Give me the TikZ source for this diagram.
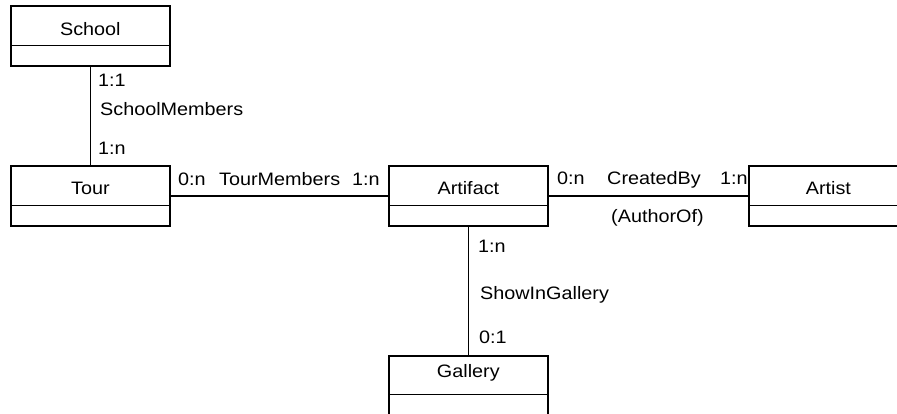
\documentclass[tikz,border=0pt]{standalone}
\usepackage{fontspec}
\setmainfont[FakeStretch=1.1]{Liberation Sans}
\begin{document}
\begin{tikzpicture}[x=1pt,y=-1pt,
  cls/.style={draw, line width=1.7pt, minimum width=159pt, minimum height=60pt,
    inner sep=0pt, anchor=north west},
  txt/.style={inner sep=0pt, font=\fontsize{18}{20}\selectfont},
  lbl/.style={txt, anchor=base west},
  cname/.style={txt, anchor=base},
  conn/.style={line width=1.7pt},
  divider/.style={line width=1.7pt}]
\useasboundingbox (0,0) rectangle (897,414);
\clip (0,0) rectangle (897,414);

% classes
\node[cls] (school) at (10,5) {};
\node[cls] (tour) at (10,165) {};
\node[cls] (artifact) at (388,165) {};
\node[cls] (artist) at (748,165) {};
\node[cls] (gallery) at (388,355) {};

% dividers
\draw[divider] ([yshift=-40.5pt]school.north west) -- ([yshift=-40.5pt]school.north east);
\draw[divider] ([yshift=-40.5pt]tour.north west) -- ([yshift=-40.5pt]tour.north east);
\draw[divider] ([yshift=-40.5pt]artifact.north west) -- ([yshift=-40.5pt]artifact.north east);
\draw[divider] ([yshift=-40.5pt]artist.north west) -- ([yshift=-40.5pt]artist.north east);
\draw[divider] ([yshift=-39.5pt]gallery.north west) -- ([yshift=-39.5pt]gallery.north east);

% class names
\node[cname] (schoolname) at ([yshift=-31pt]school.north) {School};
\node[cname] (tourname) at ([yshift=-30pt]tour.north) {Tour};
\node[cname] (artifactname) at ([yshift=-30pt]artifact.north) {Artifact};
\node[cname] (artistname) at ([yshift=-30pt]artist.north) {Artist};
\node[cname] (galleryname) at ([yshift=-22pt]gallery.north) {Gallery};

% connectors
\draw[conn] (school.south) -- (tour.north);
\draw[conn] (tour.east) -- (artifact.west);
\draw[conn] (artifact.east) -- (artist.west);
\draw[conn] (artifact.south) -- (gallery.north);

% labels
\node[lbl] (l11) at (98,87) {1:1};
\node[lbl] (lsm) at (100,116) {SchoolMembers};
\node[lbl] (l1n) at (98,155) {1:n};

\node[lbl] (l0nt) at (178,186) {0:n};
\node[lbl] (ltm) at (219,186) {TourMembers};
\node[lbl] (l1nt) at (352,186) {1:n};

\node[lbl] (l0nc) at (557,185) {0:n};
\node[lbl] (lcb) at (607,185) {CreatedBy};
\node[lbl] (l1nc) at (720,185) {1:n};
\node[lbl] (lao) at (611,223) {(AuthorOf)};

\node[lbl] (l1ng) at (478,252) {1:n};
\node[lbl] (lsg) at (480,299) {ShowInGallery};
\node[lbl] (l01) at (479,343) {0:1};
\end{tikzpicture}
\end{document}
